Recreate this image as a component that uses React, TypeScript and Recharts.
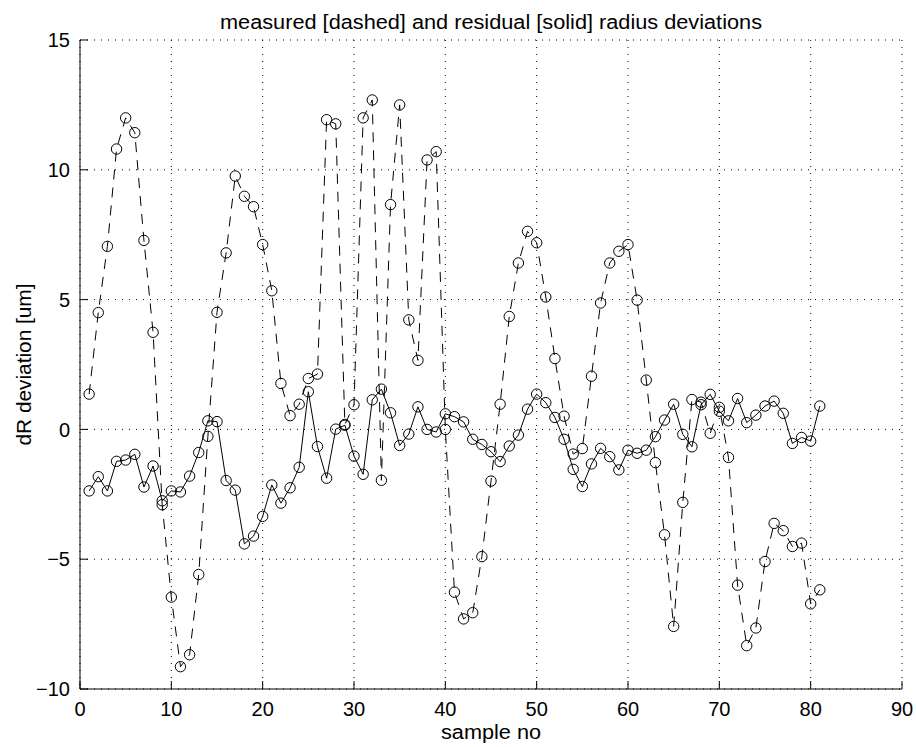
import { LineChart, Line, XAxis, YAxis, CartesianGrid } from "recharts";

// measured radius deviation (dashed), samples 1..81, um
const measured = [
  1.36, 4.5, 7.05, 10.8, 12.0, 11.43, 7.28, 3.74, -2.9, -6.46,
  -9.14, -8.68, -5.59, -0.27, 4.51, 6.8, 9.76, 8.98, 8.58, 7.12,
  5.34, 1.77, 0.53, 0.97, 1.96, 2.13, 11.93, 11.77, 0.19, 0.95,
  12.0, 12.69, -1.96, 8.66, 12.5, 4.22, 2.66, 10.38, 10.7, 0.0,
  -6.27, -7.3, -7.06, -4.9, -1.99, 0.97, 4.35, 6.41, 7.63, 7.19,
  5.1, 2.73, 0.51, -0.95, -0.74, 2.05, 4.87, 6.41, 6.86, 7.12,
  4.98, 1.9, -1.28, -4.06, -7.59, -2.81, 1.15, 1.05, -0.15, 0.85,
  -1.08, -6.0, -8.33, -7.65, -5.09, -3.62, -3.9, -4.51, -4.38, -6.72,
  -6.18,
];

// residual radius deviation (solid)
const residual = [
  -2.37, -1.82, -2.37, -1.23, -1.18, -0.96, -2.22, -1.41, -2.75, -2.37,
  -2.41, -1.8, -0.89, 0.33, 0.3, -1.97, -2.34, -4.41, -4.11, -3.35,
  -2.14, -2.84, -2.25, -1.46, 1.45, -0.66, -1.88, 0.01, 0.16, -1.03,
  -1.73, 1.14, 1.55, 0.64, -0.62, -0.18, 0.87, 0.0, -0.1, 0.6,
  0.49, 0.29, -0.38, -0.58, -0.86, -1.24, -0.64, -0.22, 0.78, 1.36,
  1.03, 0.46, -0.38, -1.54, -2.2, -1.33, -0.73, -1.05, -1.56, -0.8,
  -0.92, -0.8, -0.28, 0.36, 0.97, -0.19, -0.67, 0.95, 1.35, 0.7,
  0.33, 1.19, 0.26, 0.55, 0.9, 1.09, 0.62, -0.54, -0.31, -0.45,
  0.9,
];

const xTicks = [0, 10, 20, 30, 40, 50, 60, 70, 80, 90];
const yTicks = [-10, -5, 0, 5, 10, 15];

const rows = measured.map((m, i) => ({ sample: i + 1, measured: m, residual: residual[i] }));

const FONT = "'Liberation Sans', Arial, Helvetica, sans-serif";
const W = 916;
const H = 747;
const TOP = 40;
const LEFT = 80;
const RIGHT = 14;
const XAXIS_H = 58;
const TICK_LEN = 8;
const X_GAP = 13;
const Y_GAP = 10;

const fmt = (v: number) => (v < 0 ? `\u2212${Math.abs(v)}` : `${v}`);

function BottomTick(props: any) {
  const { x, y, payload } = props;
  return (
    <g>
      <line x1={x} x2={x} y1={y - X_GAP} y2={y - X_GAP - TICK_LEN} stroke="#000" />
      <text x={x} y={y} dy="0.71em" textAnchor="middle" fontSize={20} fontFamily={FONT} fill="#000">
        {fmt(payload.value)}
      </text>
    </g>
  );
}

function LeftTick(props: any) {
  const { x, y, payload } = props;
  return (
    <g>
      <line x1={x + Y_GAP} x2={x + Y_GAP + TICK_LEN} y1={y} y2={y} stroke="#000" />
      <text x={x} y={y} dy="0.36em" textAnchor="end" fontSize={20} fontFamily={FONT} fill="#000">
        {fmt(payload.value)}
      </text>
    </g>
  );
}

function TopTick(props: any) {
  const { x, y } = props;
  return <line x1={x} x2={x} y1={y} y2={y + TICK_LEN} stroke="#000" />;
}

function RightTick(props: any) {
  const { x, y } = props;
  return <line x1={x} x2={x - TICK_LEN} y1={y} y2={y} stroke="#000" />;
}

function Marker(props: any) {
  const { cx, cy, index } = props;
  if (cx == null || cy == null) return <g key={index} />;
  return <circle key={index} cx={cx} cy={cy} r={5.2} fill="none" stroke="#000" strokeWidth={1} />;
}

export default function App() {
  const plotRight = W - RIGHT;
  const plotBottom = H - XAXIS_H;
  const midX = (LEFT + plotRight) / 2;
  const midY = (TOP + plotBottom) / 2;

  return (
    <div style={{ position: "absolute", left: 0, top: 0, width: W, height: H, background: "#fff", fontFamily: FONT }}>
      <LineChart width={W} height={H} data={rows} margin={{ top: TOP, right: RIGHT, bottom: 0, left: 0 }}>
        <CartesianGrid stroke="#000" strokeDasharray="1 6" strokeWidth={1} />
        <XAxis
          dataKey="sample"
          type="number"
          domain={[0, 90]}
          ticks={xTicks}
          interval={0}
          height={XAXIS_H}
          tickSize={0}
          tickMargin={X_GAP}
          axisLine={{ stroke: "#000" }}
          tick={BottomTick}
          allowDataOverflow
        />
        <XAxis
          xAxisId="top"
          orientation="top"
          type="number"
          domain={[0, 90]}
          ticks={xTicks}
          interval={0}
          height={0}
          tickSize={0}
          tickMargin={0}
          axisLine={{ stroke: "#000" }}
          tick={TopTick}
          allowDataOverflow
        />
        <YAxis
          type="number"
          domain={[-10, 15]}
          ticks={yTicks}
          interval={0}
          width={LEFT}
          tickSize={0}
          tickMargin={Y_GAP}
          axisLine={{ stroke: "#000" }}
          tick={LeftTick}
          allowDataOverflow
        />
        <YAxis
          yAxisId="right"
          orientation="right"
          type="number"
          domain={[-10, 15]}
          ticks={yTicks}
          interval={0}
          width={0}
          tickSize={0}
          tickMargin={0}
          axisLine={{ stroke: "#000" }}
          tick={RightTick}
          allowDataOverflow
        />
        <Line
          type="linear"
          dataKey="measured"
          stroke="#000"
          strokeWidth={1}
          strokeDasharray="10 8"
          dot={Marker}
          activeDot={false}
          isAnimationActive={false}
        />
        <Line
          type="linear"
          dataKey="residual"
          stroke="#000"
          strokeWidth={1}
          dot={Marker}
          activeDot={false}
          isAnimationActive={false}
        />
      </LineChart>
      <svg width={W} height={H} style={{ position: "absolute", left: 0, top: 0, pointerEvents: "none" }}>
        <text x={midX} y={29} textAnchor="middle" fontSize={20} fontFamily={FONT} fill="#000" textLength={542} lengthAdjust="spacingAndGlyphs">
          measured [dashed] and residual [solid] radius deviations
        </text>
        <text x={midX} y={739} textAnchor="middle" fontSize={20} fontFamily={FONT} fill="#000" textLength={100} lengthAdjust="spacingAndGlyphs">
          sample no
        </text>
        <text
          transform={`translate(31, ${midY}) rotate(-90)`}
          textAnchor="middle"
          fontSize={20}
          fontFamily={FONT}
          fill="#000"
          textLength={162}
          lengthAdjust="spacingAndGlyphs"
        >
          dR deviation [um]
        </text>
      </svg>
    </div>
  );
}
